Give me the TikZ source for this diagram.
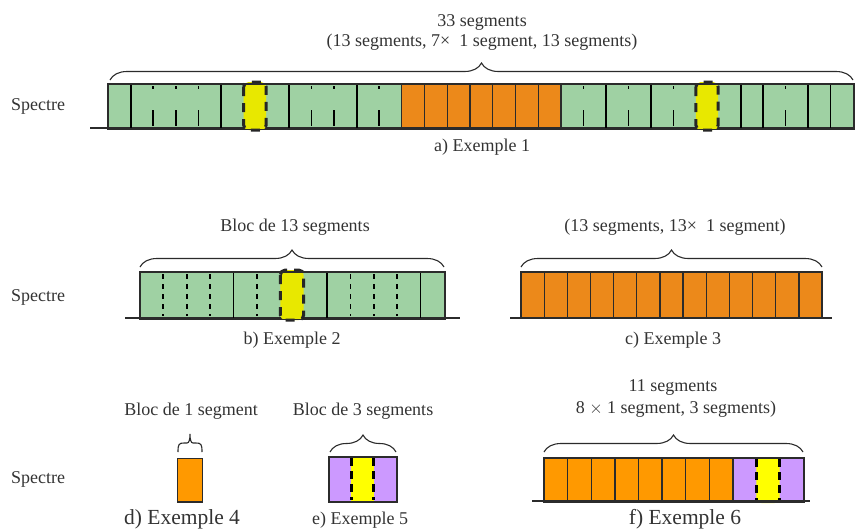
\documentclass[tikz,border=0pt]{standalone}
\usepackage{fontspec}
\setmainfont{Liberation Serif}
\usetikzlibrary{decorations.pathreplacing}
\definecolor{grn}{HTML}{9FD1A3}
\definecolor{orgA}{HTML}{EC891A}
\definecolor{orgB}{HTML}{FF9900}
\definecolor{yelA}{HTML}{E8E800}
\definecolor{yelB}{HTML}{FFFF00}
\definecolor{purp}{HTML}{CC99FF}
\definecolor{ink}{HTML}{2B2B2B}
\definecolor{txt}{HTML}{333333}
\begin{document}
\begin{tikzpicture}[x=1pt,y=-1pt,
  lbl/.style={font=\fontsize{18}{20}\selectfont, text=txt, inner sep=0pt, anchor=base},
  biglbl/.style={lbl, font=\fontsize{21.5}{24}\selectfont},
  bar/.style={draw=ink, line width=1.3pt, inner sep=0pt, anchor=north west},
  segbox/.style={draw=ink, line width=1.3pt},
  baseln/.style={draw=ink, line width=1.8pt},
  soliddiv/.style={draw=black, line width=1.8pt},
  dotdiv/.style={draw=black, line width=1.6pt, dash pattern=on 3pt off 21pt on 16pt off 10pt},
  dashdiv/.style={draw=black, line width=1.8pt, dash pattern=on 5pt off 5pt},
  brc/.style={decorate, decoration={brace, amplitude=17pt}, draw=ink, line width=1.1pt},
  yblob/.style={fill=yelA, draw=black!85, line width=3pt, dash pattern=on 9pt off 7pt, rounded corners=5pt},
  yside/.style={draw=black, line width=3pt, dash pattern=on 8pt off 5pt}
]
\useasboundingbox (0,0) rectangle (857,528);

% ---------------- Row a ----------------
\node[bar, fill=grn, minimum width=745pt, minimum height=44pt] (barA) at (108,84) {};
\draw[baseln] (90,128) -- (855,128);
% block 1 (108 -> 401.8, w=22.6)
\foreach \k in {1,5,8,11} \draw[soliddiv] ({108+22.6*\k},84) -- ({108+22.6*\k},128);
\foreach \k in {2,3,4,9,10,12} \draw[dotdiv] ({108+22.6*\k},86) -- ({108+22.6*\k},126);
% orange block (401.8 -> 561)
\foreach \k in {0,...,6} \draw[segbox, fill=orgA] ({401.8+22.74*\k},84) rectangle ({401.8+22.74*(\k+1)},128);
% block 3 (561 -> 853, w=22.46)
\foreach \k in {2,4,8,9,11,12} \draw[soliddiv] ({561+22.46*\k},84) -- ({561+22.46*\k},128);
\foreach \k in {1,3,5,10} \draw[dotdiv] ({561+22.46*\k},86) -- ({561+22.46*\k},126);
\draw[yblob] (243.6,82) rectangle (266.2,130);
\draw[yblob] (695.8,82) rectangle (718.2,130);
\draw[segbox] (barA.north west) rectangle (barA.south east);
\draw[brc] (110,80) -- (853,80);
\node[lbl] (tA1) at (482,26) {33 segments};
\node[lbl] (tA2) at (482,46) {(13 segments, 7×\ \ 1 segment, 13 segments)};
\node[lbl] (capA) at (482,151) {a) Exemple 1};
\node[lbl] (spA) at (38,110) {Spectre};

% ---------------- Row b ----------------
\node[bar, fill=grn, minimum width=304pt, minimum height=46pt] (barB) at (140,272) {};
\draw[baseln] (125,318) -- (460,318);
\foreach \k in {4,8,12} \draw[soliddiv] ({140+23.38*\k},272) -- ({140+23.38*\k},318);
\foreach \k in {1,2,3,5,9,10,11} \draw[dashdiv] ({140+23.38*\k},274) -- ({140+23.38*\k},316);
\draw[yblob] (280.3,270) rectangle (303.7,320);
\draw[segbox] (barB.north west) rectangle (barB.south east);
\draw[brc] (140,267) -- (444,267);
\node[lbl] (tB) at (295,231) {Bloc de 13 segments};
\node[lbl] (capB) at (292,344) {b) Exemple 2};
\node[lbl] (spB) at (38,301) {Spectre};

% ---------------- Row c ----------------
\node[bar, fill=orgA, minimum width=301pt, minimum height=46pt] (barC) at (521,272) {};
\draw[baseln] (510,318) -- (832,318);
\foreach \k in {0,...,12} \draw[segbox, fill=orgA] ({521+23.154*\k},272) rectangle ({521+23.154*(\k+1)},318);
\draw[brc] (521,267) -- (822,267);
\node[lbl] (tC) at (675,231) {(13 segments, 13×\ \ 1 segment)};
\node[lbl] (capC) at (673,344) {c) Exemple 3};

% ---------------- Row d ----------------
\node[bar, fill=orgB, minimum width=25pt, minimum height=43pt] (barD) at (177,458) {};
\draw[baseln] (barD.south west) -- (barD.south east);
\draw[ink, line width=1.1pt] (178,452) .. controls (178,444) and (179,443) .. (184,443)
  -- (187,443) .. controls (189,443) and (190,440) .. (190,434)
  .. controls (190,440) and (191,443) .. (193,443) -- (196,443)
  .. controls (201,443) and (202,444) .. (202,452);
\node[lbl] (tD) at (191,415) {Bloc de 1 segment};
\node[biglbl] (capD) at (182,524) {d) Exemple 4};
\node[lbl] (spC) at (38,483) {Spectre};

% ---------------- Row e ----------------
\node[bar, fill=purp, minimum width=67pt, minimum height=44pt] (barE) at (329,457) {};
\fill[yelB] (351.3,457) rectangle (373.7,501);
\draw[yside] (351.3,458) -- (351.3,500);
\draw[yside] (373.7,458) -- (373.7,500);
\draw[segbox] (barE.north west) rectangle (barE.south east);
\draw[baseln] (barE.south west) -- (barE.south east);
\draw[brc] (330,452) -- (396,452);
\node[lbl] (tE) at (363,415) {Bloc de 3 segments};
\node[lbl] (capE) at (360,524) {e) Exemple 5};

% ---------------- Row f ----------------
\node[bar, fill=purp, minimum width=259pt, minimum height=43pt] (barF) at (544,458) {};
\foreach \k in {0,...,7} \draw[segbox, fill=orgB] ({544+23.625*\k},458) rectangle ({544+23.625*(\k+1)},501);
\fill[yelB, rounded corners=5pt] (756.3,458) rectangle (779.7,503);
\draw[yside] (756.3,459) -- (756.3,501);
\draw[yside] (779.7,459) -- (779.7,501);
\draw[segbox] (barF.north west) rectangle (barF.south east);
\draw[baseln] (532,501) -- (810,501);
\draw[brc] (544,452) -- (803,452);
\node[lbl] (tF1) at (673,391) {11 segments};
\node[lbl] (tF2) at (676,413) {8 $\times$ 1 segment, 3 segments)};
\node[biglbl] (capF) at (685,524) {f) Exemple 6};
\end{tikzpicture}
\end{document}
